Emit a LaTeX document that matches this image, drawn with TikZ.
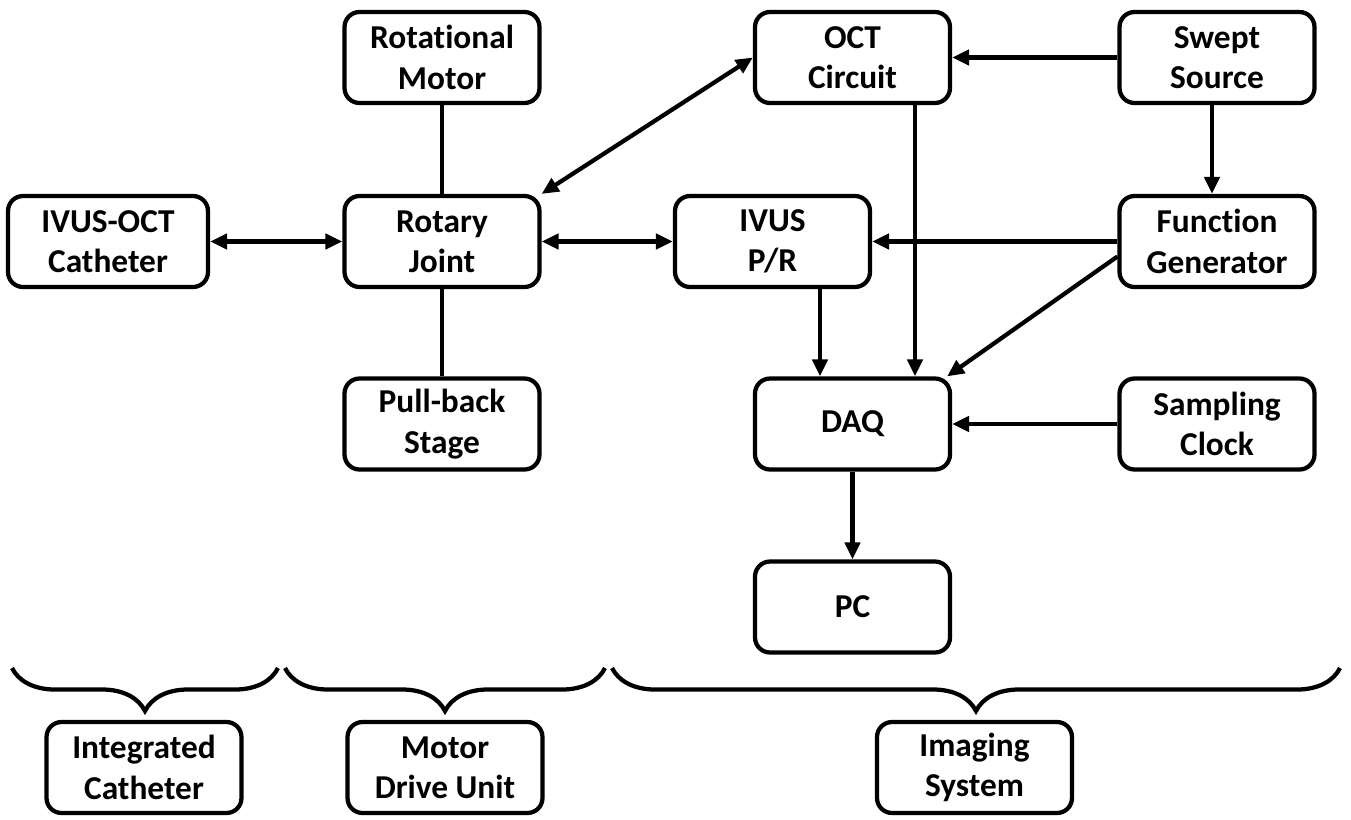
\documentclass[tikz,border=0pt]{standalone}
\usepackage{fontspec}
\setmainfont{Carlito}[Ligatures={NoCommon}]
\usetikzlibrary{arrows.meta,decorations.pathreplacing}

\begin{document}
\begin{tikzpicture}[x=0.02cm, y=-0.02cm, font=\bfseries\fontsize{19}{23}\selectfont,
    blk/.style={draw, line width=0.085cm, rounded corners=0.3cm, align=center,
                minimum width=3.9cm, minimum height=1.82cm, inner sep=0pt},
    arr/.style={line width=0.085cm, -{Triangle[length=0.34cm,width=0.3cm]}},
    darr/.style={line width=0.085cm, {Triangle[length=0.34cm,width=0.3cm]}-{Triangle[length=0.34cm,width=0.3cm]}},
    lnk/.style={line width=0.085cm},
    brc/.style={line width=0.085cm, decorate, decoration={brace, mirror, amplitude=0.86cm}}]
    \useasboundingbox (0,0) rectangle (1351,819);

    % blocks
    \node[blk, minimum width=4cm] (catheter) at (108,241.5) {IVUS-OCT\\Catheter};
    \node[blk] (rotmotor) at (442,57.5) {Rotational\\Motor};
    \node[blk] (rotjoint) at (442,241.5) {Rotary\\Joint};
    \node[blk] (pullback) at (442,424) {Pull-back\\Stage};
    \node[blk] (octcirc) at (852.5,57.5) {OCT\\Circuit};
    \node[blk] (ivuspr) at (772.5,241.5) {IVUS\\P/R};
    \node[blk] (daq) at (852.5,424) {DAQ};
    \node[blk] (pc) at (852.5,607) {PC};
    \node[blk] (swept) at (1217,57.5) {Swept\\Source};
    \node[blk] (funcgen) at (1217,241.5) {Function\\Generator};
    \node[blk] (sampclk) at (1217,424) {Sampling\\Clock};

    % links
    \draw[lnk] (rotmotor) -- (rotjoint);
    \draw[lnk] (rotjoint) -- (pullback);
    \draw[darr] (catheter) -- (rotjoint);
    \draw[darr] (rotjoint) -- (ivuspr);
    \draw[darr] (rotjoint.north east) -- (octcirc.west);
    \draw[arr] (swept) -- (octcirc);
    \draw[arr] ([xshift=-0.1cm]swept.south) -- ([xshift=-0.1cm]funcgen.north);
    \draw[arr] (funcgen) -- (ivuspr);
    \draw[arr] ([xshift=1.25cm]octcirc.south) -- ([xshift=1.25cm]daq.north);
    \draw[arr] ([xshift=0.95cm]ivuspr.south) -- ([xshift=0.95cm]ivuspr.south |- daq.north);
    \draw[arr] ([yshift=-0.3cm]funcgen.west) -- ([xshift=-0.1cm]daq.north east);
    \draw[arr] (sampclk) -- (daq);
    \draw[arr] (daq) -- (pc);

    % braces
    \draw[brc] (12,668) -- (278,668);
    \draw[brc] (285,668) -- (605,668);
    \draw[brc] (612,668) -- (1340,668);

    % groups
    \node[blk] (intcath) at (144,767.5) {Integrated\\Catheter};
    \node[blk] (mdu) at (445,767.5) {Motor\\Drive Unit};
    \node[blk] (imgsys) at (974.5,767.5) {Imaging\\System};
\end{tikzpicture}
\end{document}
